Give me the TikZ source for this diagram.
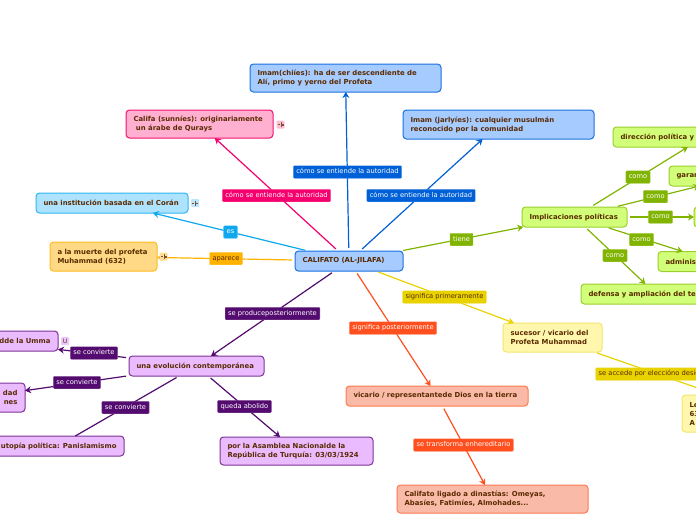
\documentclass[tikz,border=0pt]{standalone}
\usepackage{fontspec}
\setmainfont{DejaVu Sans}
\usetikzlibrary{arrows.meta}

\definecolor{blueline}{HTML}{0060D8}
\definecolor{blueedge}{HTML}{1A70E0}
\definecolor{bluefill}{HTML}{A6CBFF}
\definecolor{pinkline}{HTML}{F5006E}
\definecolor{pinkedge}{HTML}{F5106E}
\definecolor{pinkfill}{HTML}{FFB0D0}
\definecolor{skyline}{HTML}{0DA8EE}
\definecolor{skyedge}{HTML}{30B6F2}
\definecolor{skyfill}{HTML}{ADE3FF}
\definecolor{amberline}{HTML}{FFB300}
\definecolor{amberedge}{HTML}{FFBC20}
\definecolor{amberfill}{HTML}{FFD985}
\definecolor{greenline}{HTML}{80B400}
\definecolor{greenedge}{HTML}{9CCF2C}
\definecolor{greenfill}{HTML}{D2FF7A}
\definecolor{yellowline}{HTML}{E8D200}
\definecolor{yellowedge}{HTML}{F4E66A}
\definecolor{yellowfill}{HTML}{FFF7AE}
\definecolor{redline}{HTML}{FF4F1E}
\definecolor{rededge}{HTML}{FF7A50}
\definecolor{redfill}{HTML}{F9BBA8}
\definecolor{purpleline}{HTML}{540B70}
\definecolor{purpleedge}{HTML}{7C3496}
\definecolor{purplefill}{HTML}{EABBFF}
\definecolor{txt}{HTML}{5A2A00}

\tikzset{
	main node/.style={draw=#1edge,fill=#1fill,rounded corners=3.5pt,line width=1pt,
		font=\bfseries\fontsize{6.9}{9}\selectfont,text=txt,align=flush left,
		inner ysep=0pt,inner xsep=7.5pt,outer sep=0pt},
	size/.style 2 args={minimum width=#1pt,minimum height=#2pt,text width=#1pt-15pt},
	link label/.style={fill=#1line,draw=#1line!70!white,line width=.4pt,rounded corners=1pt,
		text=white,font=\fontsize{6.7}{7}\selectfont,
		inner xsep=3pt,inner ysep=3pt,text height=5pt,text depth=1.5pt},
	link/.style={draw=#1line,line width=1.2pt,shorten <=3pt,-{Stealth[length=6pt,width=7pt,inset=2pt]}},
	badge/.style={fill=#1fill!85!white,rounded corners=1pt,minimum size=8pt,inner sep=0pt,
		text=txt,font=\fontsize{6}{7}\selectfont}
}

\begin{document}
\begin{tikzpicture}[x=1pt,y=-1pt]
	\useasboundingbox (0,0) rectangle (696,520);
	
	\node[main node=blue,size={108}{20}] (califato) at (349,261) {CALIFATO (AL-JILAFA)};
	\node[main node=blue,size={191}{28}] (chiies) at (345.5,78) {Imam(chiíes): ha de ser descendiente de\\Alí, primo y yerno del Profeta};
	\node[main node=blue,size={191}{29}] (jarlyies) at (498.5,124.5) {Imam (jarlyíes): cualquier musulmán\\reconocido por la comunidad};
	\node[main node=pink,size={147}{28}] (sunnies) at (199.5,124) {Califa (sunníes): originariamente\\\ un árabe de Qurays};
	\node[main node=sky,size={152}{20}] (institucion) at (112,203) {una institución basada en el Corán};
	\node[main node=amber,size={107}{29}] (muerte) at (103.5,256.5) {a la muerte del profeta\\Muhammad (632)};
	
	\node[main node=green,size={105}{20}] (implica) at (574.5,217) {Implicaciones políticas};
	\node[main node=green,size={182}{20}] (direccion) at (704,137) {dirección política y};
	\node[main node=green,size={142}{20}] (garan) at (740,176) {garan};
	\node[main node=green,size={172}{20}] (tercera) at (780,217) {};
	\node[main node=green,size={112}{20}] (adminis) at (714,261.5) {adminis};
	\node[main node=green,size={150}{20}] (defensa) at (656,294) {defensa y ampliación del te};
	
	\node[main node=yellow,size={99}{29}] (sucesor) at (552.5,337.5) {sucesor / vicario del\\Profeta Muhammad};
	\node[main node=yellow,size={178}{37}] (le) at (771,413.5) {Le\\63\\A};
	
	\node[main node=red,size={182}{20}] (vicario) at (437,396) {vicario / representantede Dios en la tierra};
	\node[main node=red,size={191}{28}] (ligado) at (492.5,499) {Califato ligado a dinastías: Omeyas,\\Abasíes, Fatimíes, Almohades...};
	
	\node[main node=purple,size={135}{20}] (evolucion) at (196.5,366) {una evolución contemporánea};
	\node[main node=purple,size={140}{20},align=flush right] (umma) at (-12,341) {dde la Umma};
	\node[main node=purple,size={96}{29},align=flush right] (nes) at (-23,397.5) {dad\\nes};
	\node[main node=purple,size={132}{20},align=flush right] (utopia) at (58,446) {utopía política: Panislamismo};
	\node[main node=purple,size={153}{28}] (asamblea) at (296.5,451) {por la Asamblea Nacionalde la\\República de Turquía: 03/03/1924};
	
	\path
	(califato) edge [link=blue] (chiies)
	(califato) edge [link=blue] (jarlyies)
	(califato) edge [link=pink] (sunnies)
	(califato) edge [link=sky] (institucion)
	(califato) edge [link=amber] (muerte)
	(califato) edge [link=green] (implica)
	(califato) edge [link=yellow] (sucesor)
	(califato) edge [link=red] (vicario)
	(califato) edge [link=purple] (evolucion)
	(implica) edge [link=green] (direccion)
	(implica) edge [link=green] (garan)
	(implica) edge [link=green] (tercera)
	(implica) edge [link=green] (adminis)
	(implica) edge [link=green] (defensa)
	(sucesor) edge [link=yellow] (le)
	(vicario) edge [link=red] (ligado)
	(evolucion) edge [link=purple] (umma)
	(evolucion) edge [link=purple] (nes)
	(evolucion) edge [draw=purpleline,line width=1.2pt,shorten <=3pt] (utopia)
	(evolucion) edge [link=purple] (asamblea);
	
	\node[badge=pink] (b1) at (280.5,124.5) {};
	\node[badge=sky] (b2) at (195,203) {};
	\node[badge=amber] (b3) at (163.5,256.5) {};
	\node[badge=purple] (b4) at (65,341) {U};
	\foreach \b in {b1,b2,b3} {
		\fill[txt!80!white] ([shift={(-3,-.5)}]\b.center) rectangle +(2,1.2);
		\fill[txt!80!white] ([shift={(0,-2.5)}]\b.center) rectangle +(1.2,5);
		\fill[txt!80!white] ([shift={(1.2,-.5)}]\b.center) rectangle +(1.8,1.8);
	}
	
	\node[link label=blue] (l1) at (347.5,172) {cómo se entiende la autoridad};
	\node[link label=blue] (l2) at (421,195.5) {cómo se entiende la autoridad};
	\node[link label=pink] (l3) at (276.5,195.5) {cómo se entiende la autoridad};
	\node[link label=sky] (l4) at (230.5,232) {es};
	\node[link label=amber,text=txt] (l5) at (226,258.5) {aparece};
	\node[link label=green] (l6) at (461.5,239.5) {tiene};
	\node[link label=green] (l7) at (638,177) {como};
	\node[link label=green] (l8) at (655.5,196.5) {como};
	\node[link label=green] (l9) at (660.5,217) {como};
	\node[link label=green] (l10) at (641.5,239.5) {como};
	\node[link label=green] (l11) at (615,255.5) {como};
	\node[link label=yellow,text=txt] (l12) at (444.5,297) {significa primeramente};
	\node[link label=yellow,text=txt,anchor=west] (l13) at (595.5,374) {se accede por elecciónо desig\hspace{8pt}};
	\node[link label=red] (l14) at (393,328) {significa posteriormente};
	\node[link label=red] (l15) at (463.5,445) {se transforma enhereditario};
	\node[link label=purple] (l16) at (272.5,313.5) {se produceposteriormente};
	\node[link label=purple] (l17) at (94,353) {se convierte};
	\node[link label=purple] (l18) at (77,382.5) {se convierte};
	\node[link label=purple] (l19) at (125.5,407.5) {se convierte};
	\node[link label=purple] (l20) at (244.5,406.5) {queda abolido};
\end{tikzpicture}
\end{document}
